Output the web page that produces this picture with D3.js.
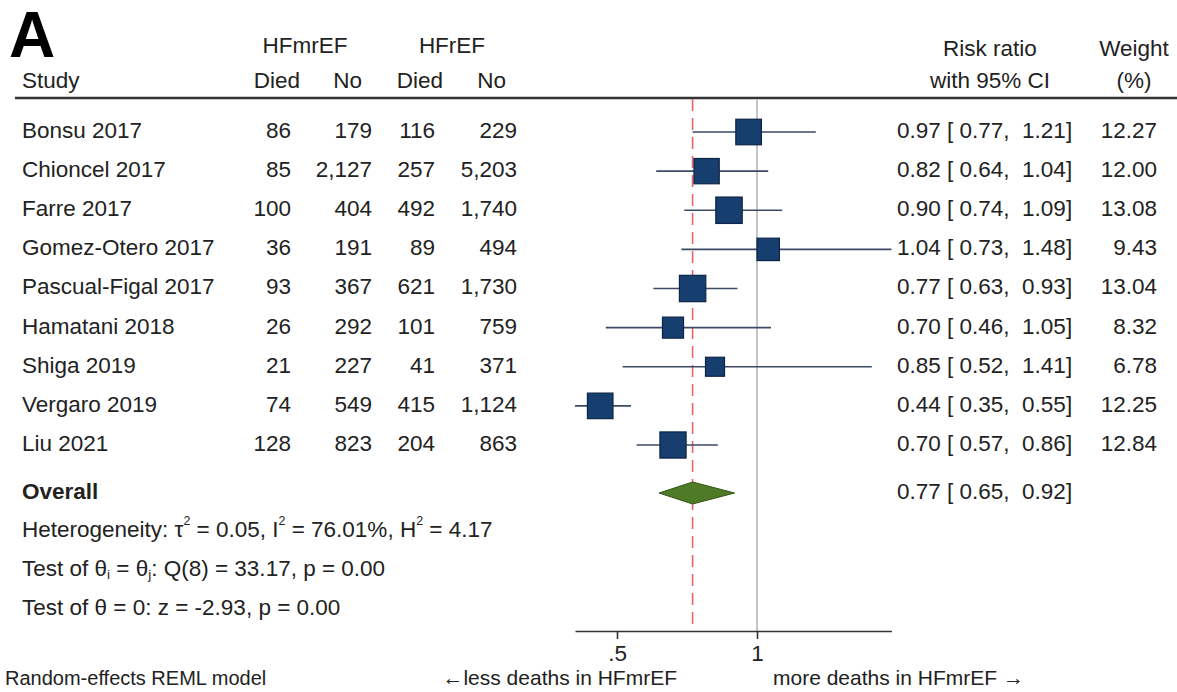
<!DOCTYPE html>
<html><head><meta charset="utf-8">
<script src="https://cdn.jsdelivr.net/npm/d3@7"></script>
<style>
html,body{margin:0;padding:0;background:#fff;}
svg{display:block;font-family:"Liberation Sans",Arial,Helvetica,sans-serif;}
text{white-space:pre;}
</style></head>
<body><svg id="c" width="1177" height="692"></svg>
<script>
const studies = ["Bonsu 2017","Chioncel 2017","Farre 2017","Gomez-Otero 2017","Pascual-Figal 2017","Hamatani 2018","Shiga 2019","Vergaro 2019","Liu 2021"];
const hfmrefDied = [86,85,100,36,93,26,21,74,128];
const hfmrefNo   = [179,2127,404,191,367,292,227,549,823];
const hfrefDied  = [116,257,492,89,621,101,41,415,204];
const hfrefNo    = [229,5203,1740,494,1730,759,371,1124,863];
const rr   = [0.97,0.82,0.90,1.04,0.77,0.70,0.85,0.44,0.70];
const lo   = [0.77,0.64,0.74,0.73,0.63,0.46,0.52,0.35,0.57];
const hi   = [1.21,1.04,1.09,1.48,0.93,1.05,1.41,0.55,0.86];
const weight = [12.27,12.00,13.08,9.43,13.04,8.32,6.78,12.25,12.84];
const overall = {rr:0.77, lo:0.65, hi:0.92};
const tickValues = [0.5, 1];
const tickLabels = [".5", "1"];
// stats lines: segments of [text, "n"|"sub"|"sup"]
const stats = [
  [["Heterogeneity: τ","n"],["2","sup"],[" = 0.05, I","n"],["2","sup"],[" = 76.01%, H","n"],["2","sup"],[" = 4.17","n"]],
  [["Test of θ","n"],["i","sub"],[" = θ","n"],["j","sub"],[": Q(8) = 33.17, p = 0.00","n"]],
  [["Test of θ = 0: z = -2.93, p = 0.00","n"]]
];

const svg = d3.select("#c");
const txt = "#222";
const fs = 22.5;
const x = d3.scaleLinear().domain([0.35,1.48]).range([575,891.4]);
const y = d3.scaleLinear().domain([0,8]).range([132,445]);
const fmtN = d3.format(",");
const f2 = v => v.toFixed(2);

// Big "A"
svg.append("text").attr("x",9).attr("y",57).attr("font-size",64).attr("font-weight","bold").attr("fill","#000").text("A");

// headers
const hdr = (t,xx,yy,anchor) => svg.append("text").attr("x",xx).attr("y",yy).attr("font-size",fs)
  .attr("text-anchor",anchor).attr("dominant-baseline","middle").attr("fill",txt).text(t);
hdr("HFmrEF",305,47,"middle");
hdr("HFrEF",452,47,"middle");
hdr("Study",22,82,"start");
hdr("Died",300,82,"end");
hdr("No",362,82,"end");
hdr("Died",443,82,"end");
hdr("No",506,82,"end");
hdr("Risk ratio",990,50,"middle");
hdr("with 95% CI",990,82,"middle");
hdr("Weight",1134,50,"middle");
hdr("(%)",1134,82,"middle");

// header rule
svg.append("line").attr("x1",15).attr("x2",1177).attr("y1",98).attr("y2",98).attr("stroke","#333").attr("stroke-width",2.5);

// reference lines
svg.append("line").attr("x1",x(1)).attr("x2",x(1)).attr("y1",99).attr("y2",631).attr("stroke","#c4c4c4").attr("stroke-width",2);
svg.append("line").attr("x1",x(overall.rr)).attr("x2",x(overall.rr)).attr("y1",99).attr("y2",631)
  .attr("stroke","#e8646a").attr("stroke-width",1.6).attr("stroke-dasharray","12,7");

// rows
const rows = svg.append("g").selectAll("g").data(studies).join("g");
rows.append("text").attr("x",22).attr("y",(d,i)=>y(i)).attr("font-size",fs).attr("dominant-baseline","middle").attr("fill",txt).text(d=>d);
const numCol = (arr,xx) => rows.append("text").attr("x",xx).attr("y",(d,i)=>y(i)).attr("font-size",fs)
  .attr("text-anchor","end").attr("dominant-baseline","middle").attr("fill",txt).text((d,i)=>fmtN(arr[i]));
numCol(hfmrefDied,291); numCol(hfmrefNo,372); numCol(hfrefDied,435); numCol(hfrefNo,517);

// CI lines
rows.append("line").attr("x1",(d,i)=>x(lo[i])).attr("x2",(d,i)=>x(hi[i])).attr("y1",(d,i)=>y(i)).attr("y2",(d,i)=>y(i))
  .attr("stroke","#3d4a66").attr("stroke-width",1.6);
// squares
const side = w => 7.3*Math.sqrt(w);
rows.append("rect").attr("x",(d,i)=>x(rr[i])-side(weight[i])/2).attr("y",(d,i)=>y(i)-side(weight[i])/2)
  .attr("width",(d,i)=>side(weight[i])).attr("height",(d,i)=>side(weight[i]))
  .attr("fill","#163e6e").attr("stroke","#0d2547").attr("stroke-width",1.2);

// RR text
rows.append("text").attr("x",897).attr("y",(d,i)=>y(i)).attr("font-size",fs).attr("dominant-baseline","middle").attr("fill",txt)
  .text((d,i)=>`${f2(rr[i])} [ ${f2(lo[i])},  ${f2(hi[i])}]`);
rows.append("text").attr("x",1157).attr("y",(d,i)=>y(i)).attr("font-size",fs).attr("text-anchor","end").attr("dominant-baseline","middle").attr("fill",txt)
  .text((d,i)=>f2(weight[i]));

// Overall
const yo = 493;
svg.append("text").attr("x",22).attr("y",yo).attr("font-size",fs).attr("font-weight","bold").attr("dominant-baseline","middle").attr("fill",txt).text("Overall");
svg.append("path").attr("d",`M${x(overall.lo)},${yo} L${x(overall.rr)},${yo-11} L${x(overall.hi)},${yo} L${x(overall.rr)},${yo+11} Z`)
  .attr("fill","#4f7a26").attr("stroke","#34561a").attr("stroke-width",1);
svg.append("text").attr("x",897).attr("y",yo).attr("font-size",fs).attr("dominant-baseline","middle").attr("fill",txt)
  .text(`${f2(overall.rr)} [ ${f2(overall.lo)},  ${f2(overall.hi)}]`);

// stats
const st = svg.append("g").selectAll("text").data(stats).join("text").attr("x",22).attr("y",(d,i)=>531+i*39).attr("font-size",fs)
  .attr("dominant-baseline","middle").attr("fill",txt);
st.each(function(segs){
  const t = d3.select(this);
  segs.forEach(([s,k])=>{
    const sp = t.append("tspan").text(s);
    if(k==="sup") sp.attr("font-size",fs*0.55);
    else if(k==="sub") sp.attr("font-size",fs*0.6);
  });
  t.selectAll("tspan").each(function(d,i){
    const prev = i>0 ? segs[i-1][1] : "n", cur = segs[i][1];
    let dy = 0;
    if(prev==="sup") dy += 9; if(prev==="sub") dy -= 5;
    if(cur==="sup") dy -= 9; if(cur==="sub") dy += 5;
    d3.select(this).attr("dy",dy);
  });
});

// axis
const ax = svg.append("g").attr("transform","translate(0,631)")
  .call(d3.axisBottom(x).tickValues(tickValues).tickFormat((d,i)=>tickLabels[i]).tickSize(8).tickSizeOuter(0).tickPadding(6));
ax.select(".domain").attr("stroke","#333").attr("stroke-width",1.6);
ax.selectAll(".tick line").attr("stroke","#333").attr("stroke-width",1.6);
ax.selectAll(".tick text").attr("font-size",fs).attr("fill",txt).attr("font-family","Liberation Sans, Arial, sans-serif");

svg.append("text").attr("x",677).attr("y",679).attr("font-size",21).attr("text-anchor","end").attr("dominant-baseline","middle").attr("fill",txt).text("←less deaths in HFmrEF");
svg.append("text").attr("x",773).attr("y",679).attr("font-size",21).attr("dominant-baseline","middle").attr("fill",txt).text("more deaths in HFmrEF →");

svg.append("text").attr("x",5).attr("y",685).attr("font-size",20).attr("fill",txt).text("Random-effects REML model");
</script></body></html>
